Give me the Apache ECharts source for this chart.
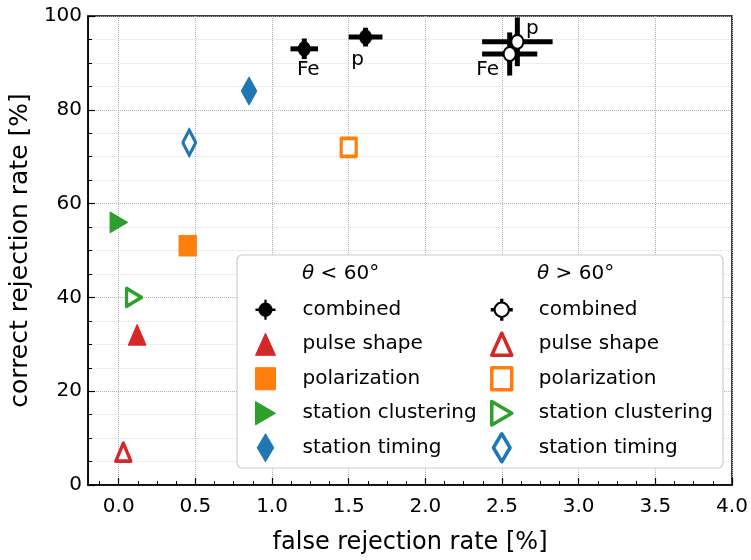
<!DOCTYPE html>
<html>
<head>
<meta charset="utf-8">
<script src="https://cdn.jsdelivr.net/npm/echarts@6/dist/echarts.min.js"></script>
<style>html,body{margin:0;padding:0;background:#fff;}#chart{width:751px;height:560px;}</style>
</head>
<body>
<div id="chart"></div>
<script>
// ---- data ----
const xMajorTicks = [0, 0.5, 1, 1.5, 2, 2.5, 3, 3.5, 4];
const xMinorTicks = [-0.125, 0.125, 0.25, 0.375, 0.625, 0.75, 0.875, 1.125, 1.25, 1.375, 1.625, 1.75, 1.875, 2.125, 2.25, 2.375, 2.625, 2.75, 2.875, 3.125, 3.25, 3.375, 3.625, 3.75, 3.875];
const combinedLabels = ['Fe', 'p'];
// [x, y, xerr, yerr]
const combinedLow  = [[1.21, 93.0, 0.09, 2.2], [1.61, 95.5, 0.11, 2.0]];
const combinedHigh = [[2.55, 91.9, 0.18, 4.6], [2.60, 94.5, 0.23, 5.2]];
const pulseLow = [[0.12, 32]];
const pulseHigh = [[0.03, 7]];
const polLow = [[0.45, 51]];
const polHigh = [[1.50, 72]];
const clusterLow = [[0.0, 56]];
const clusterHigh = [[0.10, 40]];
const timingLow = [[0.85, 84]];
const timingHigh = [[0.46, 73]];
const legendHeaders = ['{it|θ} < 60°', '{it|θ} > 60°'];

const FONT = 'DejaVu Sans';
const RED = '#d62728', ORANGE = '#ff7f0e', GREEN = '#2ca02c', BLUE = '#1f77b4';

const ICON = {
  combFilled: 'path://M10.5,3 A7.5,7.5 0 1,1 10.49,3 Z M9.3,0 L11.7,0 L11.7,21 L9.3,21 Z M0,9.3 L21,9.3 L21,11.7 L0,11.7 Z',
  combOpen: 'path://M10.5,3 A7.5,7.5 0 1,1 10.49,3 Z M9.8,0 L11.2,0 L11.2,2 L9.8,2 Z M9.8,19 L11.2,19 L11.2,21 L9.8,21 Z M0,9.8 L2,9.8 L2,11.2 L0,11.2 Z M19,9.8 L21,9.8 L21,11.2 L19,11.2 Z',
  tri: 'path://M9.5,0 L19,21 L0,21 Z',
  sq: 'path://M0,0 L19,0 L19,21 L0,21 Z',
  right: 'path://M0,0 L18,10.5 L0,21 Z',
  dia: 'path://M8,0 L16,13.5 L8,27 L0,13.5 Z'
};
const ELLIPSE = 'path://M10,0 A10,10 0 1,1 9.99,0 Z';

function errRender(params, api) {
  const x = api.value(0), y = api.value(1), ex = api.value(2), ey = api.value(3);
  const l = api.coord([x - ex, y]), r = api.coord([x + ex, y]);
  const t = api.coord([x, y + ey]), b = api.coord([x, y - ey]);
  return {type: 'group', children: [
    {type: 'line', shape: {x1: l[0], y1: l[1], x2: r[0], y2: r[1]}, style: {stroke: '#000', lineWidth: 5}},
    {type: 'line', shape: {x1: t[0], y1: t[1], x2: b[0], y2: b[1]}, style: {stroke: '#000', lineWidth: 5}}
  ]};
}

const labelOffsetsLow = [[4, 21], [-8, 23]];
const labelOffsetsHigh = [[-22, 16], [15, -13]];
function combData(rows, offs) {
  return rows.map((r, i) => ({
    value: [r[0], r[1]],
    label: {show: true, position: 'inside', offset: offs[i], formatter: combinedLabels[i],
            color: '#000', fontSize: 20, fontFamily: FONT}
  }));
}
function filled(color) { return {color: color, borderColor: color, borderWidth: 1.5, borderJoin: 'round', opacity: 1}; }
function open(color) { return {color: '#fff', borderColor: color, borderWidth: 3.5, borderJoin: 'round', opacity: 1}; }

const series = [
  {type: 'custom', name: 'err_low', renderItem: errRender, data: combinedLow, z: 3},
  {type: 'custom', name: 'err_high', renderItem: errRender, data: combinedHigh, z: 3},
  {type: 'scatter', name: 'combined', symbol: ELLIPSE, symbolSize: [13, 15], itemStyle: {color: '#000', opacity: 1},
   data: combData(combinedLow, labelOffsetsLow), z: 4},
  {type: 'scatter', name: 'combined (θ>60°)', symbol: ELLIPSE, symbolSize: [12, 14],
   itemStyle: {color: '#fff', borderColor: '#000', borderWidth: 2, opacity: 1}, data: combData(combinedHigh, labelOffsetsHigh), z: 4},
  {type: 'scatter', name: 'pulse shape', symbol: 'triangle', symbolSize: [17, 20], itemStyle: filled(RED), data: pulseLow},
  {type: 'scatter', name: 'pulse shape (θ>60°)', symbol: 'triangle', symbolSize: [15, 18], itemStyle: open(RED), data: pulseHigh},
  {type: 'scatter', name: 'polarization', symbol: 'rect', symbolSize: [17, 20], itemStyle: filled(ORANGE), data: polLow},
  {type: 'scatter', name: 'polarization (θ>60°)', symbol: 'rect', symbolSize: [15, 18], itemStyle: open(ORANGE), data: polHigh},
  {type: 'scatter', name: 'station clustering', symbol: 'triangle', symbolRotate: -90, symbolSize: [20, 17], itemStyle: filled(GREEN), data: clusterLow},
  {type: 'scatter', name: 'station clustering (θ>60°)', symbol: 'triangle', symbolRotate: -90, symbolSize: [18, 15], itemStyle: open(GREEN), data: clusterHigh},
  {type: 'scatter', name: 'station timing', symbol: 'diamond', symbolSize: [15, 27], itemStyle: filled(BLUE), data: timingLow},
  {type: 'scatter', name: 'station timing (θ>60°)', symbol: 'diamond', symbolSize: [13, 25], itemStyle: open(BLUE), data: timingHigh}
];

function legendCol(left, items) {
  return {
    left: left, top: 292.5, orient: 'vertical', padding: 0, itemWidth: 20, itemHeight: 28, itemGap: 0,
    selectedMode: false, symbolRotate: 0, z: 10,
    textStyle: {fontSize: 20, fontFamily: FONT, color: '#000', padding: [0, 0, 0, 22], lineHeight: 34.5},
    formatter: n => n.replace(' (θ>60°)', ''),
    data: items
  };
}
const openLeg = c => ({color: '#fff', borderColor: c, borderWidth: 3.5, borderJoin: 'round', opacity: 1});
const fillLeg = c => ({color: c, borderColor: c, borderWidth: 1, opacity: 1});

const option = {
  animation: false,
  backgroundColor: '#fff',
  textStyle: {fontFamily: FONT},
  grid: {left: 83, right: 19, top: 16, bottom: 73, show: true, borderColor: '#000', borderWidth: 1.5, backgroundColor: 'transparent'},
  xAxis: [{
    type: 'value', min: -0.2, max: 4, splitNumber: 8,
    name: 'false rejection rate [%]', nameLocation: 'middle', nameGap: 46,
    nameTextStyle: {fontSize: 24, fontFamily: FONT, color: '#000'},
    axisLine: {onZero: false, lineStyle: {color: '#000', width: 1.5}},
    axisTick: {inside: true, length: 7, customValues: xMajorTicks, lineStyle: {color: '#000', width: 1.2}},
    axisLabel: {customValues: xMajorTicks, formatter: v => v.toFixed(1), fontSize: 20, fontFamily: FONT, color: '#000', margin: 12},
    splitLine: {show: true, lineStyle: {type: 'dotted', color: '#b0b0b0', width: 1}}
  }, {
    type: 'value', min: -0.2, max: 4, position: 'bottom', gridIndex: 0,
    axisLine: {show: false, onZero: false},
    axisTick: {show: true, inside: true, length: 4, customValues: xMinorTicks, lineStyle: {color: '#000', width: 1}},
    axisLabel: {show: false}, splitLine: {show: false}
  }],
  yAxis: {
    type: 'value', min: 0, max: 100, interval: 20,
    name: 'correct rejection rate [%]', nameLocation: 'middle', nameGap: 42,
    nameTextStyle: {fontSize: 25, fontFamily: FONT, color: '#000'},
    axisLine: {onZero: false, lineStyle: {color: '#000', width: 1.5}},
    axisTick: {inside: true, length: 7, lineStyle: {color: '#000', width: 1.2}},
    minorTick: {show: true, splitNumber: 4, length: 4, lineStyle: {color: '#000', width: 1}},
    axisLabel: {fontSize: 20, fontFamily: FONT, color: '#000', margin: 6},
    splitLine: {show: true, lineStyle: {type: 'dotted', color: '#b0b0b0', width: 1}},
    minorSplitLine: {show: true, lineStyle: {type: 'dotted', color: '#dcdcdc', width: 1}}
  },
  legend: [
    legendCol(255, [
      {name: 'combined', icon: ICON.combFilled, itemStyle: {color: '#000', opacity: 1}},
      {name: 'pulse shape', icon: ICON.tri, itemStyle: fillLeg(RED)},
      {name: 'polarization', icon: ICON.sq, itemStyle: fillLeg(ORANGE)},
      {name: 'station clustering', icon: ICON.right, itemStyle: fillLeg(GREEN)},
      {name: 'station timing', icon: ICON.dia, itemStyle: fillLeg(BLUE)}
    ]),
    legendCol(490, [
      {name: 'combined (θ>60°)', icon: ICON.combOpen, itemStyle: {color: '#fff', borderColor: '#000', borderWidth: 2, opacity: 1}},
      {name: 'pulse shape (θ>60°)', icon: ICON.tri, itemStyle: openLeg(RED)},
      {name: 'polarization (θ>60°)', icon: ICON.sq, itemStyle: openLeg(ORANGE)},
      {name: 'station clustering (θ>60°)', icon: ICON.right, itemStyle: openLeg(GREEN)},
      {name: 'station timing (θ>60°)', icon: ICON.dia, itemStyle: openLeg(BLUE)}
    ])
  ],
  graphic: [
    {type: 'rect', z: 5, shape: {x: 237, y: 255, width: 486, height: 213, r: 5},
     style: {fill: 'rgba(255,255,255,0.92)', stroke: '#cccccc', lineWidth: 1.2}},
    {type: 'text', z: 6, x: 302, y: 274,
     style: {text: legendHeaders[0], fontSize: 20, fontFamily: FONT, fill: '#000', verticalAlign: 'middle',
             rich: {it: {fontStyle: 'italic', fontSize: 20, fontFamily: FONT}}}},
    {type: 'text', z: 6, x: 537, y: 274,
     style: {text: legendHeaders[1], fontSize: 20, fontFamily: FONT, fill: '#000', verticalAlign: 'middle',
             rich: {it: {fontStyle: 'italic', fontSize: 20, fontFamily: FONT}}}}
  ],
  series: series
};

const chart = echarts.init(document.getElementById('chart'), null, {renderer: 'canvas'});
chart.setOption(option);
</script>
</body>
</html>
